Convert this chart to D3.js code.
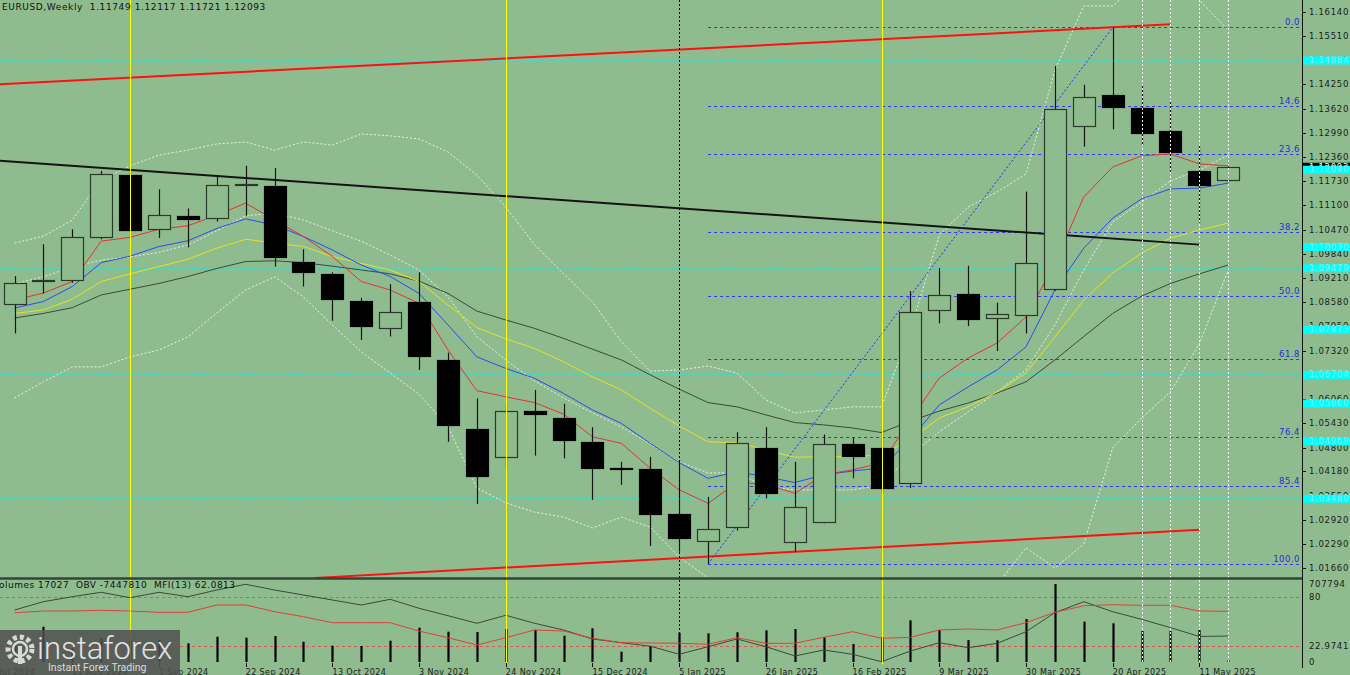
<!DOCTYPE html>
<html><head><meta charset="utf-8">
<script src="https://cdn.jsdelivr.net/npm/d3@7"></script>
<style>html,body{margin:0;padding:0;background:#8FBC8F;overflow:hidden}</style>
</head><body><svg id="c" width="1350" height="675"></svg>
<script>
// ---------- DATA ----------
const dates = ["2024-07-28","2024-08-04","2024-08-11","2024-08-18","2024-08-25","2024-09-01","2024-09-08","2024-09-15","2024-09-22","2024-09-29","2024-10-06","2024-10-13","2024-10-20","2024-10-27","2024-11-03","2024-11-10","2024-11-17","2024-11-24","2024-12-01","2024-12-08","2024-12-15","2024-12-22","2024-12-29","2025-01-05","2025-01-12","2025-01-19","2025-01-26","2025-02-02","2025-02-09","2025-02-16","2025-02-23","2025-03-02","2025-03-09","2025-03-16","2025-03-23","2025-03-30","2025-04-06","2025-04-13","2025-04-20","2025-04-27","2025-05-04","2025-05-11","2025-05-18"];
const open  = [1.0855,1.0913,1.0916,1.1028,1.1188,1.1048,1.1082,1.1076,1.1162,1.1161,1.0964,1.0932,1.0861,1.0793,1.0858,1.0707,1.0528,1.0455,1.0574,1.0558,1.0495,1.0428,1.0424,1.0307,1.0238,1.0273,1.0478,1.0234,1.0288,1.0489,1.0480,1.0388,1.0840,1.0880,1.0817,1.0825,1.0892,1.1317,1.1396,1.1364,1.1304,1.1200,1.11749];
const high  = [1.0926,1.1009,1.1048,1.1200,1.1202,1.1152,1.1102,1.1189,1.1213,1.1207,1.0996,1.0936,1.0870,1.0905,1.0936,1.0727,1.0608,1.0595,1.0630,1.0594,1.0533,1.0443,1.0456,1.0448,1.0352,1.0520,1.0533,1.0443,1.0514,1.0506,1.0528,1.0887,1.0947,1.0953,1.0857,1.1146,1.1473,1.1424,1.1573,1.1424,1.1380,1.1265,1.12117];
const low   = [1.0777,1.0881,1.0909,1.1022,1.1042,1.1025,1.1001,1.1068,1.1083,1.0951,1.0899,1.0810,1.0760,1.0769,1.0682,1.0495,1.0333,1.0424,1.0459,1.0452,1.0344,1.0383,1.0224,1.0209,1.0177,1.0264,1.0348,1.0209,1.0283,1.0400,1.0359,1.0375,1.0803,1.0796,1.0731,1.0777,1.0888,1.1263,1.1308,1.1265,1.1198,1.1065,1.11721];
const close = [1.0909,1.0916,1.1027,1.1191,1.1046,1.1084,1.1074,1.1162,1.1165,1.0975,1.0937,1.0867,1.0796,1.0834,1.0718,1.0539,1.0405,1.0575,1.0566,1.0502,1.0427,1.0427,1.0307,1.0244,1.0269,1.0492,1.0361,1.0325,1.0490,1.0458,1.0377,1.0832,1.0878,1.0815,1.0827,1.0960,1.1361,1.1393,1.1364,1.1299,1.1250,1.1163,1.12093];

const maRed    = [1.0864,1.0882,1.0912,1.1017,1.1027,1.1048,1.1057,1.1085,1.1116,1.1072,1.1029,1.0977,1.0912,1.0890,1.0855,1.0734,1.0628,1.0612,1.0597,1.0567,1.0508,1.0491,1.0426,1.0370,1.0335,1.0389,1.0385,1.0361,1.0409,1.0422,1.0440,1.0552,1.0661,1.0713,1.0752,1.0820,1.0960,1.1132,1.1210,1.1239,1.1244,1.1218,1.1213];
const maBlue   = [1.0843,1.0860,1.0899,1.0961,1.0978,1.1003,1.1018,1.1050,1.1075,1.1059,1.1029,1.0994,1.0955,1.0925,1.0881,1.0799,1.0716,1.0686,1.0660,1.0621,1.0578,1.0543,1.0491,1.0441,1.0400,1.0417,1.0404,1.0389,1.0409,1.0419,1.0427,1.0502,1.0591,1.0638,1.0682,1.0742,1.0890,1.0999,1.1077,1.1127,1.1153,1.1155,1.1168];
const maYellow = [1.0829,1.0838,1.0866,1.0912,1.0932,1.0951,1.0970,1.0999,1.1022,1.1012,1.1003,1.0977,1.0959,1.0942,1.0912,1.0851,1.0792,1.0763,1.0738,1.0703,1.0664,1.0630,1.0582,1.0536,1.0495,1.0493,1.0474,1.0455,1.0456,1.0456,1.0461,1.0500,1.0557,1.0586,1.0625,1.0674,1.0768,1.0864,1.0934,1.0986,1.1025,1.1046,1.1064];
const maGray   = [1.0817,1.0829,1.0844,1.0877,1.0892,1.0907,1.0925,1.0946,1.0964,1.0966,1.0961,1.0952,1.0942,1.0932,1.0913,1.0881,1.0835,1.0812,1.0790,1.0764,1.0736,1.0708,1.0669,1.0632,1.0597,1.0586,1.0565,1.0545,1.0539,1.0531,1.0519,1.0549,1.0575,1.0596,1.0622,1.0651,1.0708,1.0769,1.0829,1.0874,1.0907,1.0932,1.0955];
const bandUpper  = [1.1012,1.1030,1.1072,1.1176,1.1213,1.1241,1.1254,1.1270,1.1275,1.1254,1.1275,1.1267,1.1296,1.1291,1.1283,1.1249,1.1189,1.1106,1.1007,1.0932,1.0859,1.0755,1.0679,1.0682,1.0692,1.0674,1.0604,1.0570,1.0578,1.0586,1.0586,1.0786,1.1033,1.1106,1.1145,1.1192,1.1462,1.1629,1.1629,1.1696,1.1683,1.1644,1.1566];
const bandMiddle = [1.0906,1.0924,1.0950,1.0968,1.0976,1.0988,1.1007,1.1044,1.1083,1.1090,1.1072,1.1044,1.1017,1.0981,1.0942,1.0872,1.0768,1.0708,1.0653,1.0609,1.0570,1.0534,1.0489,1.0443,1.0414,1.0414,1.0378,1.0370,1.0370,1.0370,1.0383,1.0461,1.0521,1.0573,1.0625,1.0682,1.0799,1.0942,1.1067,1.1119,1.1174,1.1202,1.1241];
const bandLower  = [1.0609,1.0651,1.0690,1.0690,1.0716,1.0734,1.0768,1.0830,1.0890,1.0924,1.0872,1.0799,1.0729,1.0674,1.0619,1.0534,1.0375,1.0336,1.0312,1.0299,1.0271,1.0299,1.0273,1.0195,1.0141,1.0104,1.0089,1.0084,1.0089,1.0097,1.0104,1.0084,1.0084,1.0097,1.0123,1.0219,1.0167,1.0229,1.0479,1.0557,1.0625,1.0750,1.0942];

const volume = [199600,320300,127000,217800,190600,199600,169700,229600,220500,235900,184200,147900,145200,193300,311200,275000,272200,299500,290400,238700,305800,93500,145200,265900,260400,269500,287700,299500,224100,163300,226900,378400,290400,199600,196900,390200,707794,365700,351200,281300,281300,290400,17027];
const obv = [-6537810,-6247310,-6072310,-5918310,-6107310,-5918310,-6072310,-5837810,-5638310,-5837810,-6012810,-6187810,-6362810,-6163310,-6478310,-6737310,-7003310,-6723310,-7003310,-7237810,-7552810,-7682310,-7804810,-8088310,-7822310,-7552810,-7822310,-8147810,-7937810,-8088310,-8347310,-7972810,-7682310,-7857310,-7703310,-7297310,-6632310,-6247310,-6597310,-6863310,-7157310,-7464837,-7447810];
const mfi = [60.3,62.4,62.4,63.3,62.4,60.8,60.8,69.8,69.8,61.6,55.4,48.1,48.1,48.1,37.9,29.7,20.8,29.7,39.2,37.9,29.0,23.6,23.3,22.9,21.7,29.7,22.9,22.9,30.2,37.1,29.0,30.2,39.2,40.4,39.2,48.1,60.8,68.9,70.1,69.4,69.4,62.4,62.1];

const priceTicks = [1.16140,1.15510,1.14880,1.14250,1.13620,1.12990,1.12360,1.11730,1.11100,1.10470,1.09840,1.09210,1.08580,1.07950,1.07320,1.06690,1.06060,1.05430,1.04800,1.04180,1.03550,1.02920,1.02290,1.01660];
const cyanLevels = [1.14884,1.12040,1.10030,1.09479,1.07873,1.06704,1.05960,1.04969,1.03480];
const fibLevels = [0,14.6,23.6,38.2,50,61.8,76.4,85.4,100];
const fibLow = ["2025-01-12",1.0177];
const fibHigh = ["2025-04-20",1.1573];
const dateTickDates = ["2024-07-21","2024-08-11","2024-09-01","2024-09-22","2024-10-13","2024-11-03","2024-11-24","2024-12-15","2025-01-05","2025-01-26","2025-02-16","2025-03-09","2025-03-30","2025-04-20","2025-05-11"];
const dateTickLabels = ["21 Jul 2024","11 Aug 2024","1 Sep 2024","22 Sep 2024","13 Oct 2024","3 Nov 2024","24 Nov 2024","15 Dec 2024","5 Jan 2025","26 Jan 2025","16 Feb 2025","9 Mar 2025","30 Mar 2025","20 Apr 2025","11 May 2025"];
const redUpperLine = [["2024-07-24T12:00Z",1.1425],["2025-05-04",1.1581]];
const redLowerLine = [["2024-10-08T19:00Z",1.0141],["2025-05-11",1.0266]];
const blackTrendLine = [["2024-07-24T12:00Z",1.1226],["2025-05-11",1.1008]];
const yellowMarks = ["2024-08-25","2024-11-24","2025-02-23"];
const blackMarks = ["2025-01-05"];
const whiteMarks = ["2025-04-27","2025-05-04","2025-05-11","2025-05-18"];
const lastPrice = 1.12093;
const headerText = "EURUSD,Weekly  1.11749 1.12117 1.11721 1.12093";
const subHeaderText = "Volumes 17027  OBV -7447810  MFI(13) 62.0813";

// ---------- SCALES ----------
const P = d => new Date(d.length > 10 ? d : d + "T00:00Z");
const BG = "#8FBC8F";
const AXX = 1302, MAIN_B = 578;
const x = d3.scaleUtc().domain([P(dates[0]), P(dates[dates.length-1])]).range([14.5, 1228.3]);
const y = d3.scaleLinear().domain([1.01407, 1.16444]).range([MAIN_B, 0]);
const yVol = d3.scaleLinear().domain([0, 707794]).range([662, 584]);
const yMfi = d3.scaleLinear().domain([0, 100]).range([662, 580.3]);
const yObv = d3.scaleLinear().domain([-8357810, -5487810]).range([662, 580]);

const svg = d3.select("#c");
svg.append("rect").attr("width",1350).attr("height",675).attr("fill",BG);
const defs = svg.append("defs");
defs.append("clipPath").attr("id","mainClip").append("rect").attr("x",0).attr("y",0).attr("width",AXX).attr("height",MAIN_B);
defs.append("clipPath").attr("id","lowClip").append("rect").attr("x",0).attr("y",MAIN_B+1).attr("width",AXX).attr("height",90);
const font = "DejaVu Sans";

const mainG = svg.append("g").attr("clip-path","url(#mainClip)");
const lowG = svg.append("g").attr("clip-path","url(#lowClip)");
const idx = dates.map((d,i)=>i);

// cyan levels
mainG.selectAll(".cy").data(cyanLevels).join("line")
  .attr("x1",0).attr("x2",AXX).attr("y1",d=>Math.round(y(d))+0.5).attr("y2",d=>Math.round(y(d))+0.5)
  .attr("stroke","#3ED8CC").attr("stroke-dasharray","3,3").attr("stroke-width",1);

// fib levels
const fibY = l => fibHigh[1] - l/100*(fibHigh[1]-fibLow[1]);
mainG.selectAll(".fb").data(fibLevels).join("line")
  .attr("x1",x(P(fibLow[0]))).attr("x2",AXX).attr("y1",d=>Math.round(y(fibY(d)))+0.5).attr("y2",d=>Math.round(y(fibY(d)))+0.5)
  .attr("stroke","#3434F4").attr("stroke-dasharray","3,3").attr("stroke-width",1);
mainG.selectAll(".fbt").data(fibLevels).join("text")
  .attr("x",AXX-2).attr("y",d=>y(fibY(d))-2).attr("text-anchor","end")
  .attr("font-family",font).attr("font-size","8.5px").attr("letter-spacing","0.5px").attr("fill","#2A2AD8")
  .text(d=>d.toFixed(1));

// vertical markers
const allV = (arr, color, dash) => svg.selectAll(null).data(arr).join("line")
  .attr("x1",d=>Math.round(x(P(d)))+0.5).attr("x2",d=>Math.round(x(P(d)))+0.5).attr("y1",0).attr("y2",664)
  .attr("stroke",color).attr("stroke-width",1).attr("stroke-dasharray",dash);
allV(yellowMarks,"#FFFF00",null);
allV(blackMarks,"#000000","2,2");
allV(whiteMarks,"#F4F4F4","2,2");

// bands
const lineGen = arr => d3.line().x(i=>x(P(dates[i]))).y(i=>y(arr[i]))(idx);
[bandUpper,bandMiddle,bandLower].forEach(a=>{
  mainG.append("path").attr("d",lineGen(a)).attr("fill","none").attr("stroke","#E6F2E6").attr("stroke-width",1).attr("stroke-dasharray","2,2");
});
// MAs
[[maGray,"#3A4A3A"],[maYellow,"#E4E41C"],[maBlue,"#2A4CF0"],[maRed,"#E83030"]].forEach(([a,c])=>{
  mainG.append("path").attr("d",lineGen(a)).attr("fill","none").attr("stroke",c).attr("stroke-width",1);
});
// trend lines
const tl = (pts,c,w,dash) => mainG.append("line")
  .attr("x1",x(P(pts[0][0]))).attr("y1",y(pts[0][1])).attr("x2",x(P(pts[1][0]))).attr("y2",y(pts[1][1]))
  .attr("stroke",c).attr("stroke-width",w).attr("stroke-dasharray",dash);
tl(redUpperLine,"#FF1010",2,null);
tl(redLowerLine,"#FF1010",2,null);
tl(blackTrendLine,"#141414",2,null);
tl([fibLow,fibHigh],"#2030F0",1,"2,2");

// candles
const cw = 22;
mainG.selectAll(".wk").data(idx).join("line")
  .attr("x1",i=>Math.round(x(P(dates[i])))+0.5).attr("x2",i=>Math.round(x(P(dates[i])))+0.5)
  .attr("y1",i=>y(high[i])).attr("y2",i=>y(low[i])).attr("stroke","#141414").attr("stroke-width",1.2);
mainG.selectAll(".bd").data(idx).join("rect")
  .attr("x",i=>Math.round(x(P(dates[i]))-cw/2)+0.5)
  .attr("y",i=>Math.round(y(Math.max(open[i],close[i])))+0.5)
  .attr("width",cw)
  .attr("height",i=>Math.max(1,Math.round(Math.abs(y(open[i])-y(close[i])))))
  .attr("fill",i=>close[i]>=open[i]?BG:"#000")
  .attr("stroke",i=>close[i]>=open[i]?"#2A3A2A":"#000").attr("stroke-width",1.2);

// lower panel
lowG.selectAll(".rl").data([80,20]).join("line")
  .attr("x1",0).attr("x2",AXX).attr("y1",d=>Math.round(yMfi(d))+0.5).attr("y2",d=>Math.round(yMfi(d))+0.5)
  .attr("stroke","#D85A50").attr("stroke-dasharray","3,3");
lowG.selectAll(".vb").data(idx).join("line")
  .attr("x1",i=>Math.round(x(P(dates[i])))+0.5).attr("x2",i=>Math.round(x(P(dates[i])))+0.5)
  .attr("y1",i=>yVol(volume[i])).attr("y2",yVol(0)).attr("stroke","#000").attr("stroke-width",2.2);
lowG.append("path").attr("d",d3.line().x(i=>x(P(dates[i]))).y(i=>yObv(obv[i]))(idx))
  .attr("fill","none").attr("stroke","#3A4A3A").attr("stroke-width",1);
lowG.append("path").attr("d",d3.line().x(i=>x(P(dates[i]))).y(i=>yMfi(mfi[i]))(idx))
  .attr("fill","none").attr("stroke","#E04038").attr("stroke-width",1);

// separators & axis line
svg.append("line").attr("x1",0).attr("x2",AXX).attr("y1",MAIN_B+0.5).attr("y2",MAIN_B+0.5).attr("stroke","#34443A").attr("stroke-width",2.5);
svg.append("line").attr("x1",AXX+0.5).attr("x2",AXX+0.5).attr("y1",0).attr("y2",668).attr("stroke","#111").attr("stroke-width",1);

// right price axis
const txt = (sel) => sel.attr("font-family",font).attr("font-size","8.5px").attr("letter-spacing","0.7px");
svg.selectAll(".pt").data(priceTicks).join("line")
  .attr("x1",AXX).attr("x2",AXX+4).attr("y1",d=>Math.round(y(d))+0.5).attr("y2",d=>Math.round(y(d))+0.5).attr("stroke","#111");
txt(svg.selectAll(".ptt").data(priceTicks).join("text")
  .attr("x",AXX+7).attr("y",d=>y(d)+3).attr("fill","#1a1a1a").text(d=>d.toFixed(5)));

// last price label (black)
svg.append("rect").attr("x",AXX+1).attr("y",y(lastPrice)-4.5).attr("width",48).attr("height",9).attr("fill","#000");
txt(svg.append("text").attr("x",AXX+7).attr("y",y(lastPrice)+3).attr("fill","#fff").text(lastPrice.toFixed(5)));
// cyan labels
svg.selectAll(".cl").data(cyanLevels).join("rect")
  .attr("x",AXX+1).attr("y",d=>y(d)-3.5).attr("width",48).attr("height",8).attr("fill","#00FFFF");
txt(svg.selectAll(".clt").data(cyanLevels).join("text")
  .attr("x",AXX+7).attr("y",d=>y(d)+3).attr("fill","#8AEEE8").text(d=>d.toFixed(5)));

// lower right labels
const lowLabels = [[yVol(707794),"707794"],[yMfi(80),"80"],[yMfi(20),"22.9741"],[yVol(0),"0"]];
txt(svg.selectAll(".ll").data(lowLabels).join("text")
  .attr("x",AXX+7).attr("y",d=>d[0]+3).attr("fill","#1a1a1a").text(d=>d[1]));

// date axis
svg.selectAll(".dt").data(dateTickDates).join("line")
  .attr("x1",d=>Math.round(x(P(d)))+0.5).attr("x2",d=>Math.round(x(P(d)))+0.5).attr("y1",663).attr("y2",667).attr("stroke","#111");
svg.selectAll(".dtt").data(dateTickDates).join("text")
  .attr("x",d=>x(P(d))).attr("y",674.5).attr("font-family",font).attr("font-size","8px").attr("letter-spacing","0.4px")
  .attr("fill","#1a1a1a").text((d,i)=>dateTickLabels[i]);

// headers
svg.append("text").attr("x",2).attr("y",10).attr("font-family",font).attr("font-size","9px").attr("letter-spacing","0.6px")
  .attr("fill","#111").style("white-space","pre").text(headerText);
svg.append("text").attr("x",-7).attr("y",588).attr("font-family",font).attr("font-size","9px").attr("letter-spacing","0.5px")
  .attr("fill","#111").style("white-space","pre").text(subHeaderText);

// logo
const lg = svg.append("g");
lg.append("rect").attr("x",0).attr("y",630).attr("width",180).attr("height",45).attr("fill","#505050").attr("opacity",0.85);
lg.append("circle").attr("cx",20).attr("cy",649).attr("r",12).attr("fill","none").attr("stroke","#d8d8d8").attr("stroke-width",5).attr("stroke-dasharray","4,3");
lg.append("circle").attr("cx",20).attr("cy",649).attr("r",7).attr("fill","none").attr("stroke","#d8d8d8").attr("stroke-width",2.5);
lg.append("rect").attr("x",18).attr("y",646).attr("width",4).attr("height",18).attr("fill","#d8d8d8");
lg.append("text").attr("x",37).attr("y",659).attr("font-family","Roboto").attr("font-weight",300).attr("font-size","31px").attr("fill","#e2e2e2").text("instaforex");
lg.append("text").attr("x",48).attr("y",671).attr("font-family","Roboto").attr("font-size","10.5px").attr("fill","#dcdcdc").text("Instant Forex Trading");
</script>
</body></html>
